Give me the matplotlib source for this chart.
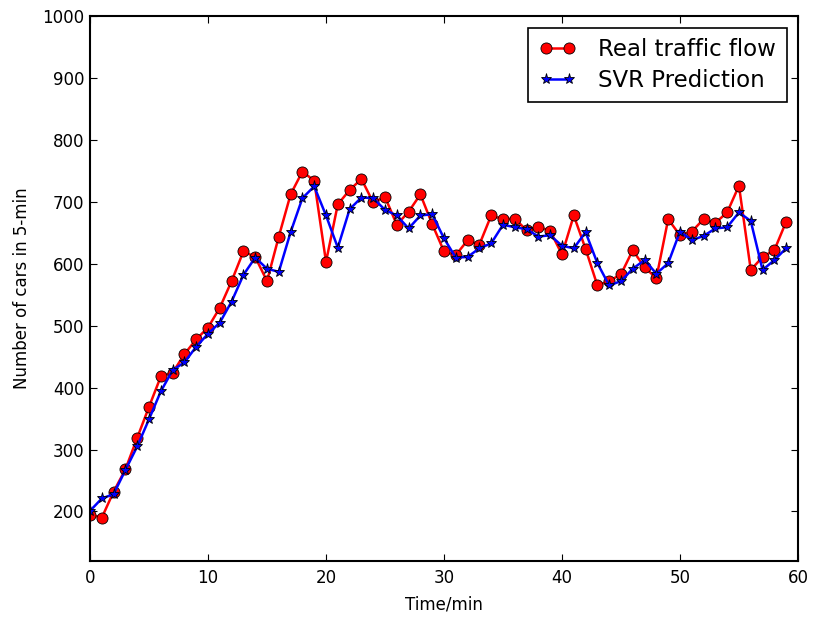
import matplotlib
matplotlib.use("Agg")
import matplotlib.pyplot as plt

# time index (minutes) and traffic counts
minutes = list(range(60))

real_flow = [195, 190, 232, 268, 319, 369, 418, 424, 454, 478,
             497, 529, 572, 620, 611, 572, 644, 712, 749, 734,
             603, 696, 719, 737, 699, 708, 663, 684, 712, 664,
             620, 614, 638, 631, 678, 672, 673, 654, 660, 653,
             615, 678, 624, 565, 572, 583, 622, 594, 577, 672,
             646, 652, 672, 666, 683, 726, 590, 611, 622, 668]

svr_pred = [201, 221, 228, 267, 305, 349, 394, 428, 441, 466,
            487, 505, 539, 582, 610, 592, 587, 651, 706, 725,
            678, 626, 688, 707, 706, 687, 678, 657, 678, 680,
            641, 610, 611, 625, 633, 663, 659, 656, 644, 646,
            629, 625, 651, 601, 565, 572, 592, 606, 584, 601,
            652, 638, 645, 657, 659, 683, 669, 590, 606, 625]

plt.rcParams.update({
    "font.family": "DejaVu Sans",
    "xtick.direction": "in",
    "ytick.direction": "in",
    "xtick.top": True,
    "ytick.right": True,
    "xtick.major.size": 5,
    "ytick.major.size": 5,
})

fig = plt.figure(figsize=(8.14, 6.18), dpi=100)
ax = fig.add_axes([0.1106, 0.0922, 0.8697, 0.8818])

ax.plot(minutes, real_flow, color='red', marker='o', linestyle='-', linewidth=1.8,
        markersize=8, markeredgecolor='black', markeredgewidth=0.6, label='Real traffic flow')
ax.plot(minutes, svr_pred, color='blue', marker='*', linestyle='-', linewidth=1.8,
        markersize=8, markeredgecolor='black', markeredgewidth=0.6, label='SVR Prediction')

ax.set_xlim(0, 60)
ax.set_ylim(120, 1000)
ax.set_xticks([0, 10, 20, 30, 40, 50, 60])
ax.set_yticks([200, 300, 400, 500, 600, 700, 800, 900, 1000])
ax.tick_params(axis='x', labelsize=12, pad=6)
ax.tick_params(axis='y', labelsize=12, pad=4)
for s in ax.spines.values():
    s.set_linewidth(1.5)

ax.set_xlabel("Time/min", fontsize=12, labelpad=6)
ax.set_ylabel("Number of cars in 5-min", fontsize=12, labelpad=8)

leg = ax.legend(loc='upper right', fontsize=16.5, fancybox=False, numpoints=2,
                handlelength=1.6, handletextpad=1.0, labelspacing=0.35,
                borderpad=0.45, framealpha=1)
leg.get_frame().set_edgecolor('black')
leg.get_frame().set_linewidth(1.2)

fig.savefig("out.png", dpi=100)
